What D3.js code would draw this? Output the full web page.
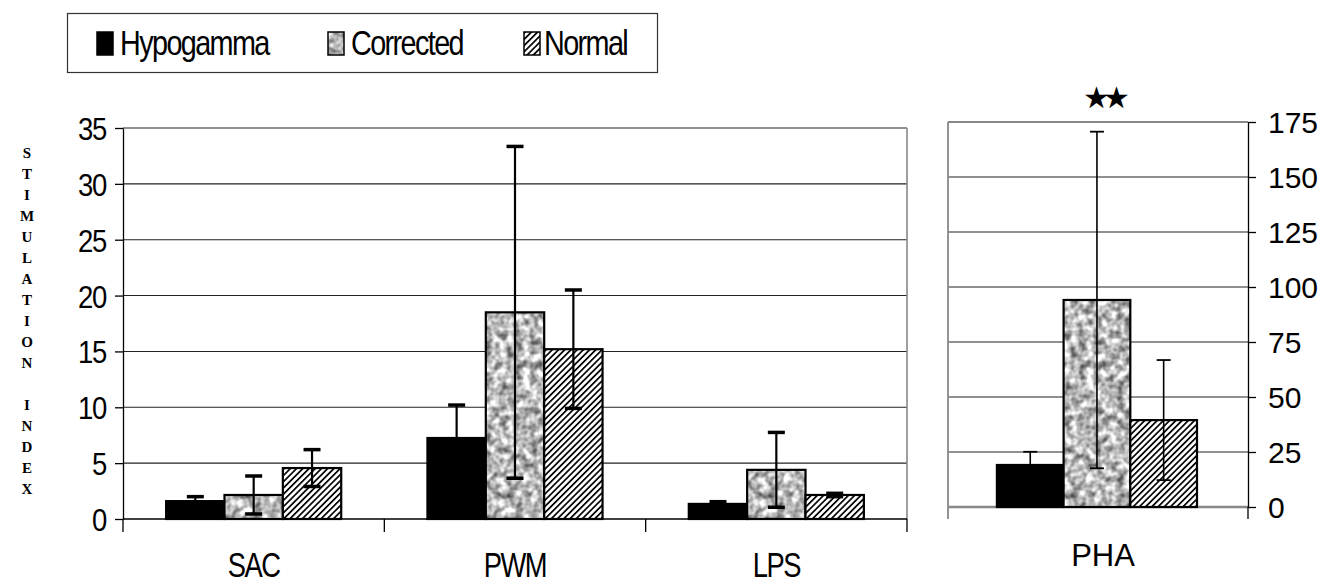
<!DOCTYPE html>
<html>
<head>
<meta charset="utf-8">
<script src="https://cdn.jsdelivr.net/npm/d3@7"></script>
<style>
  body { margin: 0; background: #fff; }
  svg { display: block; }
</style>
</head>
<body>
<svg id="chart"></svg>
<script>
// values
const categories = ["SAC", "PWM", "LPS"];
const seriesNames = ["Hypogamma", "Corrected", "Normal"];
const hypogamma = [1.6, 7.25, 1.35];
const hypogammaErr = [0.4, 2.95, 0.2];
const corrected = [2.15, 18.5, 4.4];
const correctedErr = [1.7, 14.85, 3.35];
const normal = [4.56, 15.2, 2.15];
const normalErr = [1.65, 5.3, 0.15];
const phaCategory = ["PHA"];
const phaValues = [19.1, 94.1, 39.5];
const phaErr = [6, 76.5, 27.3];
const leftTicks = [0, 5, 10, 15, 20, 25, 30, 35];
const rightTicks = [0, 25, 50, 75, 100, 125, 150, 175];
const yTitle = "STIMULATION INDEX";

let w = 1322, h = 585;
let svg = d3.select("#chart").attr("width", w).attr("height", h);
let font = "'Liberation Sans', Arial, sans-serif";

// fills: black, mottled grey, diagonal hatch
let defs = svg.append("defs");
let hatch = defs.append("pattern")
    .attr("id", "hatch")
    .attr("patternUnits", "userSpaceOnUse")
    .attr("width", 4.4).attr("height", 4.4)
    .attr("patternTransform", "rotate(45)");
hatch.append("rect").attr("width", 4.4).attr("height", 4.4).attr("fill", "#fff");
hatch.append("rect").attr("width", 1.7).attr("height", 4.4).attr("fill", "#000");

let noise = defs.append("filter")
    .attr("id", "noise")
    .attr("x", 0).attr("y", 0).attr("width", 1).attr("height", 1)
    .attr("color-interpolation-filters", "sRGB");
noise.append("feTurbulence")
    .attr("type", "fractalNoise")
    .attr("baseFrequency", 0.13)
    .attr("numOctaves", 2)
    .attr("seed", 4)
    .attr("result", "t");
noise.append("feColorMatrix")
    .attr("in", "t")
    .attr("type", "matrix")
    .attr("values", "1.25 0 0 0 0.1  1.25 0 0 0 0.1  1.25 0 0 0 0.1  0 0 0 0 1")
    .attr("result", "g");
noise.append("feComposite")
    .attr("in", "g").attr("in2", "SourceGraphic").attr("operator", "in");

function fillFor(s) {
    return s == 0 ? "#000" : s == 1 ? "#aaa" : "url(#hatch)";
}

function drawBars(g, rows, x0, x1, y, style) {
    let grp = g.selectAll("g.grp")
        .data(rows)
        .enter()
        .append("g")
        .attr("class", "grp")
        .attr("transform", d => "translate(" + x0(d.cat) + ",0)");

    let bar = grp.selectAll("g.bar")
        .data(d => d.items)
        .enter()
        .append("g");

    bar.append("rect")
        .attr("x", d => x1(d.s))
        .attr("y", d => y(d.v))
        .attr("width", x1.bandwidth())
        .attr("height", d => y(0) - y(d.v))
        .attr("fill", d => fillFor(d.s))
        .attr("filter", d => d.s == 1 ? "url(#noise)" : null);

    bar.append("rect")
        .attr("x", d => x1(d.s))
        .attr("y", d => y(d.v))
        .attr("width", x1.bandwidth())
        .attr("height", d => y(0) - y(d.v))
        .attr("fill", "none")
        .attr("stroke", "#000")
        .attr("stroke-width", 2.2);

    // error bars
    let cx = d => x1(d.s) + x1.bandwidth() / 2;
    bar.append("line")
        .attr("x1", cx).attr("x2", cx)
        .attr("y1", d => y(d.v + d.e))
        .attr("y2", d => y(Math.max(0, d.v - d.e)))
        .attr("stroke", "#000")
        .attr("stroke-width", style.lw);
    [1, -1].forEach(sign => {
        bar.append("line")
            .attr("x1", d => cx(d) - style.cap / 2)
            .attr("x2", d => cx(d) + style.cap / 2)
            .attr("y1", d => y(d.v + sign * d.e))
            .attr("y2", d => y(d.v + sign * d.e))
            .attr("stroke", "#000")
            .attr("stroke-width", style.capw);
    });
}

// ---------- left chart ----------
let pLeft = 123, pRight = 907, pBase = 519, pTop = 128;
let x0 = d3.scaleBand().domain(categories).range([pLeft, pRight]);
let bw = x0.bandwidth();
let x1 = d3.scaleBand().domain([0, 1, 2]).range([bw * 0.165, bw * 0.835]);
let y = d3.scaleLinear().domain([0, 35]).range([pBase, pTop]);

let lg = svg.append("g");
lg.selectAll("line.grid")
    .data(leftTicks.filter(t => t > 0))
    .enter()
    .append("line")
    .attr("x1", pLeft).attr("x2", pRight)
    .attr("y1", d => y(d)).attr("y2", d => y(d))
    .attr("stroke", "#222").attr("stroke-width", 1.1);

lg.append("line")
    .attr("x1", pRight).attr("x2", pRight)
    .attr("y1", pTop).attr("y2", pBase)
    .attr("stroke", "#888").attr("stroke-width", 1.6);

let rows = categories.map((c, i) => ({
    cat: c,
    items: [
        {s: 0, v: hypogamma[i], e: hypogammaErr[i]},
        {s: 1, v: corrected[i], e: correctedErr[i]},
        {s: 2, v: normal[i], e: normalErr[i]}
    ]
}));
drawBars(lg, rows, x0, x1, y, {lw: 2.2, cap: 17, capw: 3.5});

// y axis
let yAxis = lg.append("g")
    .attr("transform", "translate(" + pLeft + ",0)")
    .call(d3.axisLeft(y).tickValues(leftTicks).tickSize(8).tickSizeOuter(0));
yAxis.select(".domain").attr("stroke", "#000").attr("stroke-width", 1.3);
yAxis.selectAll(".tick line").attr("stroke", "#000").attr("stroke-width", 1.3);
yAxis.selectAll(".tick text")
    .attr("x", -17 / 0.86)
    .attr("dy", "0.36em")
    .attr("transform", "scale(0.86,1)")
    .attr("font-family", font)
    .attr("font-size", "32px")
    .attr("letter-spacing", "-1.5px")
    .attr("fill", "#000");

// category axis
lg.append("line")
    .attr("x1", pLeft).attr("x2", pRight)
    .attr("y1", pBase).attr("y2", pBase)
    .attr("stroke", "#000").attr("stroke-width", 1.3);
let bounds = [pLeft].concat(categories.map(c => x0(c) + bw));
lg.selectAll("line.ctick")
    .data(bounds)
    .enter()
    .append("line")
    .attr("x1", d => d).attr("x2", d => d)
    .attr("y1", pBase).attr("y2", pBase + 13)
    .attr("stroke", "#000").attr("stroke-width", 1.3);
lg.selectAll("text.cat")
    .data(categories)
    .enter()
    .append("text")
    .attr("transform", d => "translate(" + (x0(d) + bw / 2) + ",577) scale(0.76,1)")
    .attr("text-anchor", "middle")
    .attr("font-family", font)
    .attr("font-size", "36px")
    .attr("letter-spacing", "-2px")
    .text(d => d);

// stacked y title
lg.selectAll("text.ytitle")
    .data(yTitle.split(""))
    .enter()
    .append("text")
    .attr("x", 27)
    .attr("y", (d, i) => 153 + i * 21)
    .attr("dy", "0.35em")
    .attr("text-anchor", "middle")
    .attr("font-family", "'Liberation Serif', 'Times New Roman', serif")
    .attr("font-weight", "bold")
    .attr("font-size", "15px")
    .text(d => d);

// ---------- right chart (PHA) ----------
let rl = 948, rr = 1248, rbase = 507, rtop = 122;
let xr0 = d3.scaleBand().domain(phaCategory).range([rl, rr]);
let rbw = xr0.bandwidth();
let xr1 = d3.scaleBand().domain([0, 1, 2]).range([rbw * 0.163, rbw * 0.83]);
let yr = d3.scaleLinear().domain([0, 175]).range([rbase, rtop]);

let rg = svg.append("g");
rg.selectAll("line.grid")
    .data(rightTicks.filter(t => t > 0 && t < 175))
    .enter()
    .append("line")
    .attr("x1", rl).attr("x2", rr)
    .attr("y1", d => yr(d)).attr("y2", d => yr(d))
    .attr("stroke", "#222").attr("stroke-width", 1.1);
rg.append("line")
    .attr("x1", rl).attr("x2", rr)
    .attr("y1", rtop).attr("y2", rtop)
    .attr("stroke", "#888").attr("stroke-width", 1.8);
rg.append("line")
    .attr("x1", rl).attr("x2", rl)
    .attr("y1", rtop).attr("y2", rbase + 12)
    .attr("stroke", "#888").attr("stroke-width", 1.8);
rg.append("line")
    .attr("x1", rl).attr("x2", rr)
    .attr("y1", rbase).attr("y2", rbase)
    .attr("stroke", "#888").attr("stroke-width", 2.6);

let phaRows = [{
    cat: "PHA",
    items: phaValues.map((v, i) => ({s: i, v: v, e: phaErr[i]}))
}];
drawBars(rg, phaRows, xr0, xr1, yr, {lw: 1.6, cap: 14, capw: 1.8});

let rAxis = rg.append("g")
    .attr("transform", "translate(" + rr + ",0)")
    .call(d3.axisRight(yr).tickValues(rightTicks).tickSize(8).tickSizeOuter(0));
rAxis.select(".domain").attr("stroke", "#000").attr("stroke-width", 1.3);
rAxis.selectAll(".tick line").attr("stroke", "#000").attr("stroke-width", 1.3);
rAxis.selectAll(".tick text")
    .attr("x", 20)
    .attr("dy", "0.36em")
    .attr("font-family", font)
    .attr("font-size", "30px")
    .attr("fill", "#000");
rg.append("line")
    .attr("x1", rr).attr("x2", rr)
    .attr("y1", rbase).attr("y2", rbase + 12)
    .attr("stroke", "#000").attr("stroke-width", 1.3);

rg.append("text")
    .attr("x", xr0("PHA") + rbw / 2 + 5)
    .attr("y", 566)
    .attr("text-anchor", "middle")
    .attr("font-family", font)
    .attr("font-size", "31px")
    .text("PHA");

rg.append("text")
    .attr("x", xr0("PHA") + rbw / 2 + 5)
    .attr("y", 108)
    .attr("text-anchor", "middle")
    .attr("font-family", "'DejaVu Sans', sans-serif")
    .attr("font-size", "30px")
    .attr("letter-spacing", "-7px")
    .text("\u2605\u2605");

// ---------- legend ----------
let legend = svg.append("g");
legend.append("rect")
    .attr("x", 67.5).attr("y", 13.5)
    .attr("width", 590).attr("height", 59)
    .attr("fill", "#fff")
    .attr("stroke", "#333").attr("stroke-width", 1.2);

let legendX = [97, 328, 524];
let item = legend.selectAll("g.item")
    .data(seriesNames)
    .enter()
    .append("g")
    .attr("transform", (d, i) => "translate(" + legendX[i] + ",32)");
item.append("rect")
    .attr("width", 16).attr("height", 23)
    .attr("fill", (d, i) => fillFor(i))
    .attr("filter", (d, i) => i == 1 ? "url(#noise)" : null);
item.append("rect")
    .attr("width", 16).attr("height", 23)
    .attr("fill", "none")
    .attr("stroke", "#000").attr("stroke-width", 1.5);
item.append("text")
    .attr("transform", (d, i) => "translate(" + (i == 2 ? 20 : 23) + ",23) scale(0.8,1)")
    .attr("font-family", font)
    .attr("font-size", "36px")
    .attr("letter-spacing", "-2px")
    .text(d => d);
</script>
</body>
</html>
